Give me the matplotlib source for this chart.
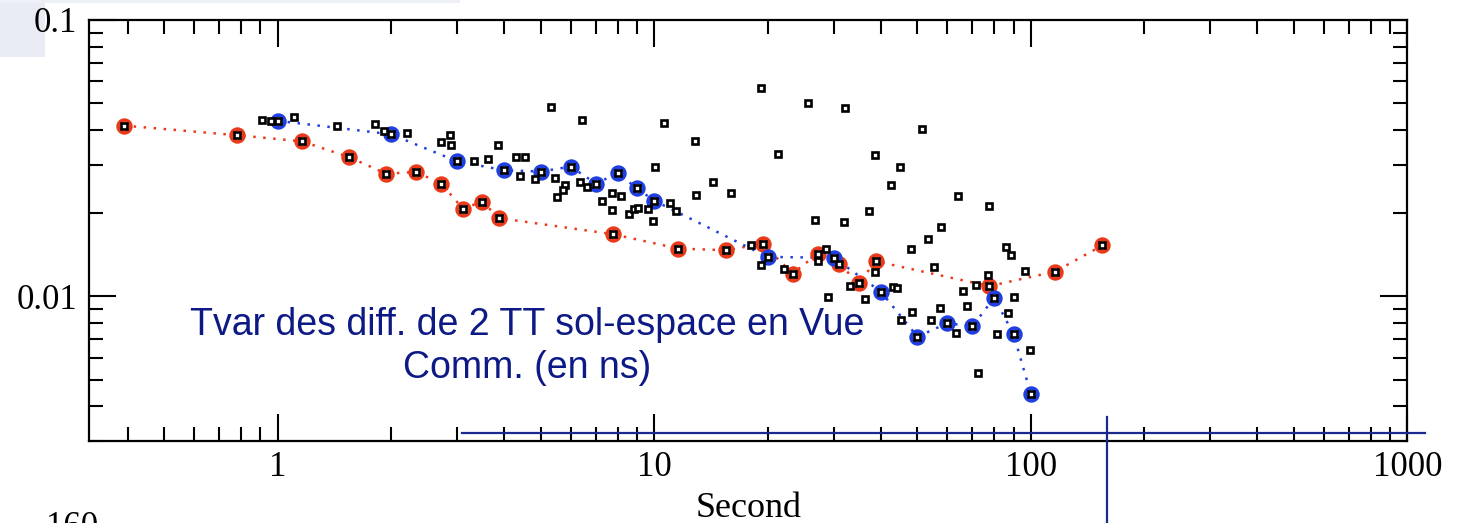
import matplotlib
matplotlib.use("Agg")
import matplotlib.pyplot as plt
from matplotlib.ticker import FixedLocator, FixedFormatter, LogLocator, NullFormatter
from matplotlib.lines import Line2D
from matplotlib.patches import Rectangle

# Averaging time (s) and time variance for the common-view series
red_tau = [0.39, 0.78, 1.16, 1.55, 1.94, 2.33, 2.72, 3.10, 3.49, 3.88, 7.76, 11.6,
           15.5, 19.4, 23.3, 27.2, 31.0, 34.9, 38.8, 77.6, 116, 155]
red_tvar = [0.0415, 0.0383, 0.0364, 0.0319, 0.0278, 0.0282, 0.0256, 0.0208, 0.0220,
            0.0192, 0.0168, 0.0149, 0.0147, 0.0155, 0.0121, 0.0143, 0.0131, 0.0112,
            0.0134, 0.0109, 0.0123, 0.0153]

blue_tau = [1, 2, 3, 4, 5, 6, 7, 8, 9, 10, 20, 30, 40, 50, 60, 70, 80, 90, 100]
blue_tvar = [0.0432, 0.0386, 0.0308, 0.0286, 0.0283, 0.0295, 0.0256, 0.0279, 0.0246,
             0.0222, 0.0139, 0.0138, 0.0104, 0.00715, 0.0080, 0.0078, 0.0099, 0.0073,
             0.00445]

other_tau = [0.906, 0.958, 1.105, 1.434, 1.813, 1.921, 2.209, 2.868, 2.719, 2.894,
             3.853, 5.328, 6.416, 10.64, 19.20, 25.64, 32.09, 51.29, 12.83, 21.31,
             38.48, 44.92, 42.59, 64.15, 77.27, 3.317, 3.628, 4.298, 4.528, 4.412,
             4.823, 5.439, 5.782, 5.722, 5.515, 6.350, 6.639, 7.251, 7.736, 8.142,
             7.722, 8.595, 8.834, 9.051, 9.622, 9.922, 10.04, 11.04, 11.44, 12.88,
             14.33, 15.98, 26.67, 31.95, 37.24, 57.61, 53.21, 18.06, 28.66, 47.96,
             85.89, 88.40, 19.20, 22.11, 27.16, 55.20, 38.55, 96.45, 76.93, 71.49,
             66.15, 90.35, 33.09, 28.92, 36.26, 42.95, 44.18, 48.26, 45.11, 57.37,
             54.29, 67.53, 63.25, 86.79, 81.28, 99.27, 72.37]
other_tvar = [0.0434, 0.0430, 0.0446, 0.0412, 0.0421, 0.0398, 0.0390, 0.0385, 0.0361, 0.0353,
              0.0352, 0.0486, 0.0436, 0.0423, 0.0569, 0.0502, 0.0480, 0.0402, 0.0366, 0.0327,
              0.0324, 0.0293, 0.0252, 0.0231, 0.0213, 0.0310, 0.0314, 0.0319, 0.0319, 0.0272,
              0.0265, 0.0269, 0.0254, 0.0243, 0.0228, 0.0260, 0.0248, 0.0221, 0.0236, 0.0231,
              0.0206, 0.0198, 0.0208, 0.0209, 0.0207, 0.0188, 0.0294, 0.0218, 0.0203, 0.0232,
              0.0259, 0.0236, 0.0189, 0.0186, 0.0204, 0.0179, 0.0161, 0.0153, 0.0149, 0.0148,
              0.0151, 0.0141, 0.0130, 0.0126, 0.0134, 0.0128, 0.0123, 0.0124, 0.0120, 0.0110,
              0.0105, 0.00992, 0.0109, 0.00992, 0.00980, 0.01086, 0.01069, 0.00878, 0.00821, 0.00907,
              0.00823, 0.00923, 0.00739, 0.00871, 0.00731, 0.00639, 0.00529]

x_major = [1, 10, 100, 1000]
x_labels = ["1", "10", "100", "1000"]
y_major = [0.01, 0.1]
y_labels = ["0.01", "0.1"]

RED = "#ea3a1a"
BLUE = "#1f3fe0"
NAVY = "#0d1a86"
SERIF = "Liberation Serif"
SANS = "Liberation Sans"

W, H = 1468, 523
fig = plt.figure(figsize=(W / 100, H / 100), dpi=100)
fig.patch.set_facecolor("white")

# slide background tint in the upper-left corner
fig.add_artist(Rectangle((0, 1 - 57 / H), 45 / W, 57 / H, transform=fig.transFigure,
                         facecolor="#e9ebf5", edgecolor="none", zorder=0))
fig.add_artist(Rectangle((0, 1 - 3 / H), 460 / W, 3 / H, transform=fig.transFigure,
                         facecolor="#eef0f7", edgecolor="none", zorder=0))

ax = fig.add_axes([89.3 / W, 1 - 441 / H, (1407.3 - 89.3) / W, (441 - 20) / H])
ax.set_facecolor("none")
ax.set_xscale("log")
ax.set_yscale("log")
ax.set_xlim(0.316, 1000)
ax.set_ylim(0.003, 0.1)

dots = (0, (1, 3))
ax.plot(red_tau, red_tvar, color=RED, lw=1.8, ls=dots, zorder=2)
ax.plot(blue_tau, blue_tvar, color=BLUE, lw=1.8, ls=dots, zorder=2)
ax.plot(red_tau, red_tvar, ls="none", marker="o", ms=9, mfc="none", mec=RED, mew=2.8, zorder=3)
ax.plot(blue_tau, blue_tvar, ls="none", marker="o", ms=9, mfc="none", mec=BLUE, mew=2.8, zorder=3)

sq = dict(ls="none", marker="s", ms=5.0, mfc="white", mec="black", mew=1.9, zorder=4)
ax.plot(other_tau, other_tvar, **sq)
ax.plot(red_tau, red_tvar, **sq)
ax.plot(blue_tau, blue_tvar, **sq)

ax.xaxis.set_major_locator(FixedLocator(x_major))
ax.xaxis.set_major_formatter(FixedFormatter(x_labels))
ax.xaxis.set_minor_locator(LogLocator(base=10, subs=range(2, 10), numticks=20))
ax.xaxis.set_minor_formatter(NullFormatter())
ax.yaxis.set_major_locator(FixedLocator(y_major))
ax.yaxis.set_major_formatter(FixedFormatter(y_labels))
ax.yaxis.set_minor_locator(LogLocator(base=10, subs=range(2, 10), numticks=20))
ax.yaxis.set_minor_formatter(NullFormatter())

ax.tick_params(which="both", direction="in", top=True, right=True, width=1.5, colors="black")
ax.tick_params(which="major", length=19.5)
ax.tick_params(which="minor", length=10)
ax.tick_params(axis="x", which="major", pad=7, labelsize=25)
ax.tick_params(axis="y", which="major", pad=8.5, labelsize=25)
for lab in ax.get_xticklabels() + ax.get_yticklabels():
    lab.set_fontfamily(SERIF)
for sp in ax.spines.values():
    sp.set_linewidth(1.6)

ax.set_xlabel("Second", fontsize=26, fontfamily=SERIF)
ax.xaxis.set_label_coords(0.5, -0.12)

ax.text(0.3322, 0.2518, "Tvar des diff. de 2 TT sol-espace en Vue", transform=ax.transAxes,
        ha="center", va="baseline", fontsize=27, fontfamily=SANS, color=NAVY, zorder=5)
ax.text(0.3322, 0.1496, "Comm. (en ns)", transform=ax.transAxes,
        ha="center", va="baseline", fontsize=27, fontfamily=SANS, color=NAVY, zorder=5)

# overlaid slide rules
fig.add_artist(Line2D([462 / W, 1425 / W], [1 - 432.7 / H, 1 - 432.7 / H],
                      transform=fig.transFigure, color="#1a2a8c", lw=1.6, zorder=6))
fig.add_artist(Line2D([1106.7 / W, 1106.7 / W], [1 - 416.7 / H, 0],
                      transform=fig.transFigure, color="#1a2a8c", lw=1.6, zorder=6))

# partially visible label from the panel below
fig.text(46 / W, 1 - 511 / H, "160", fontsize=25, fontfamily=SERIF, va="top", ha="left",
         color="black")

fig.savefig("out.png", dpi=100)
